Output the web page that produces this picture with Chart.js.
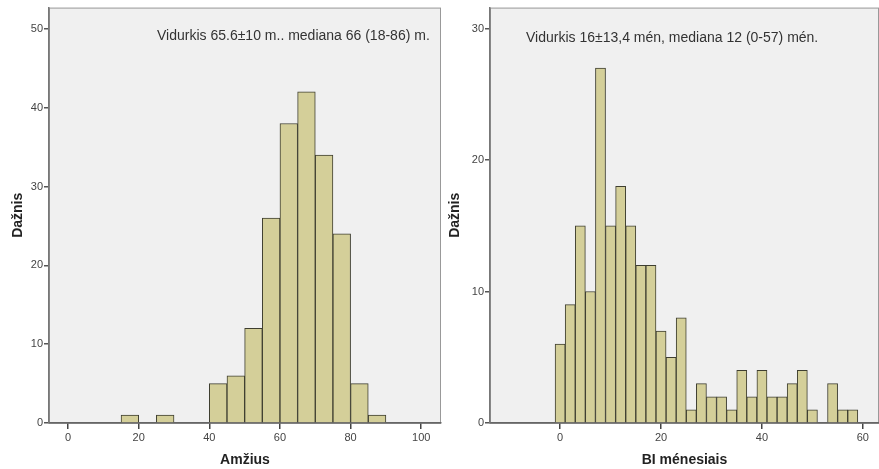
<!DOCTYPE html>
<html>
<head>
<meta charset="utf-8">
<script src="https://cdn.jsdelivr.net/npm/chart.js@4.4.1/dist/chart.umd.min.js"></script>
<style>
  html, body { margin: 0; padding: 0; background: #fff; }
  #wrap { position: relative; width: 879px; height: 469px; }
  canvas { position: absolute; top: 0; }
</style>
</head>
<body>
<div id="wrap">
  <canvas id="chartAge" width="445" height="469" style="left:0"></canvas>
  <canvas id="chartMonths" width="434" height="469" style="left:445px"></canvas>
</div>
<script>
// amžius: stulpelių centrai (plotis 5) ir dažniai
const ageBins = [17.5, 22.5, 27.5, 32.5, 37.5, 42.5, 47.5, 52.5, 57.5, 62.5, 67.5, 72.5, 77.5, 82.5, 87.5];
const ageCounts = [1, 0, 1, 0, 0, 5, 6, 12, 26, 38, 42, 34, 24, 5, 1];
const ageTicksX = [0, 20, 40, 60, 80, 100];
const ageTicksY = [0, 10, 20, 30, 40, 50];
const ageNote = 'Vidurkis 65.6±10 m.. mediana 66 (18-86) m.';

// BI mėnesiais: stulpelių centrai (plotis 2) ir dažniai
const monthBins = [0, 2, 4, 6, 8, 10, 12, 14, 16, 18, 20, 22, 24, 26, 28, 30, 32, 34, 36, 38, 40, 42, 44, 46, 48, 50, 52, 54, 56, 58];
const monthCounts = [6, 9, 15, 10, 27, 15, 18, 15, 12, 12, 7, 5, 8, 1, 3, 2, 2, 1, 4, 2, 4, 2, 2, 3, 4, 1, 0, 3, 1, 1];
const monthTicksX = [0, 20, 40, 60];
const monthTicksY = [0, 10, 20, 30];
const monthNote = 'Vidurkis 16±13,4 mén, mediana 12 (0-57) mén.';

const barFill = 'rgb(212,207,153)';
const barLine = 'rgb(62,62,48)';
const tickFont = { family: 'Liberation Sans, Arial', size: 11 };
const titleFont = { family: 'Liberation Sans, Arial', size: 14, weight: 'bold' };

// pilkas fonas ir rėmelis
const frameBg = {
  id: 'frameBg',
  beforeDraw(chart) {
    const { ctx, chartArea: { left, top, width, height } } = chart;
    ctx.save();
    ctx.fillStyle = '#f0f0f0';
    ctx.fillRect(left, top, width, height);
    ctx.strokeStyle = '#999';
    ctx.lineWidth = 1;
    ctx.strokeRect(left + 0.5, top + 0.5, width - 1, height);
    ctx.restore();
  }
};

// užrašas viršuje grafiko viduje
const noteText = {
  id: 'noteText',
  afterDraw(chart, args, opts) {
    const { ctx } = chart;
    ctx.save();
    ctx.font = '14px "Liberation Sans", Arial';
    ctx.fillStyle = '#333';
    ctx.textBaseline = 'middle';
    ctx.fillText(opts.text, opts.x, opts.y);
    ctx.restore();
  }
};

function makeChart(id, bins, counts, xT, yT, xr, yr, yWidth, yPad, xTitle, note) {
  return new Chart(document.getElementById(id), {
    type: 'bar',
    data: {
      datasets: [{
        data: bins.map((b, i) => ({ x: b, y: counts[i] })),
        backgroundColor: barFill,
        borderColor: barLine,
        borderWidth: 1,
        borderSkipped: 'bottom',
        barPercentage: 1,
        categoryPercentage: 1
      }]
    },
    options: {
      responsive: false,
      animation: false,
      layout: { padding: { top: 7, right: id === 'chartAge' ? 4 : 0 } },
      plugins: {
        legend: { display: false },
        tooltip: { enabled: false },
        noteText: note
      },
      scales: {
        x: {
          type: 'linear',
          offset: false,
          min: xr[0], max: xr[1],
          afterBuildTicks: s => { s.ticks = xT.map(v => ({ value: v })); },
          afterFit: s => { s.height = 46; },
          grid: { offset: false, drawOnChartArea: false, drawTicks: true, tickLength: 6, color: '#444', lineWidth: 1.5 },
          border: { color: '#666', width: 1.5 },
          ticks: { font: tickFont, color: '#444', padding: 2, maxRotation: 0 },
          title: { display: true, text: xTitle, font: titleFont, color: '#222', padding: { bottom: 0.6, top: 0 } }
        },
        y: {
          min: yr[0], max: yr[1],
          afterBuildTicks: s => { s.ticks = yT.map(v => ({ value: v })); },
          afterFit: s => { s.width = yWidth; },
          grid: { drawOnChartArea: false, drawTicks: true, tickLength: 5, color: '#555', lineWidth: 1.5 },
          border: { color: '#777', width: 1.5 },
          ticks: { font: tickFont, color: '#444', padding: 1 },
          title: { display: true, text: 'Dažnis', font: titleFont, color: '#222', padding: { top: yPad, bottom: 0 } }
        }
      }
    },
    plugins: [frameBg, noteText]
  });
}

makeChart('chartAge', ageBins, ageCounts, ageTicksX, ageTicksY, [-5.4, 105.6], [0, 52.7], 49, 9.6, 'Amžius',
  { text: ageNote, x: 157, y: 36 });
makeChart('chartMonths', monthBins, monthCounts, monthTicksX, monthTicksY, [-13.9, 63.2], [0, 31.6], 45, 1.6, 'BI ménesiais',
  { text: monthNote, x: 81, y: 38 });
</script>
</body>
</html>
